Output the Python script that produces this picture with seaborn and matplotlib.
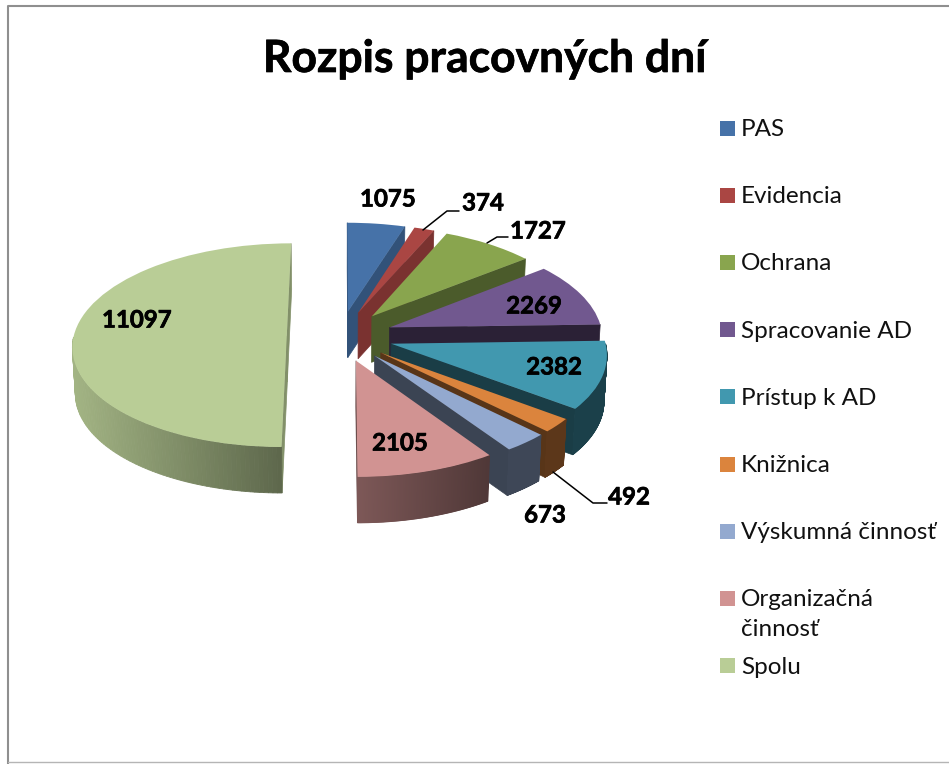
import numpy as np
import seaborn as sns
import matplotlib.pyplot as plt
import matplotlib.patheffects as pe
from matplotlib.patches import Rectangle
from matplotlib.transforms import Transform

categories = ['PAS', 'Evidencia', 'Ochrana', 'Spracovanie AD', 'Prístup k AD',
              'Knižnica', 'Výskumná činnosť', 'Organizačná\nčinnosť', 'Spolu']
values = [1075, 374, 1727, 2269, 2382, 492, 673, 2105, 11097]
colors = ['#4672a8', '#aa4643', '#89a54e', '#71588f', '#4198af',
          '#db843d', '#93a9cf', '#d19392', '#b9cd96']
# label centres on the picture, same order as values
label_pos = [(388, 199), (483, 203), (538, 231), (534, 306), (554, 367),
             (629, 497), (545, 515), (400, 443), (137, 320)]
# darkening of the outer wall, left end to right end
rim_shade = [(.5, .5), (.5, .5), (.5, .5), (.4, .4), (.42, .42),
             (.42, .42), (.42, .42), (.6, .38), (.88, .5)]
side_shade = [.72, .72, .55, .38, .4, .4, .4, .5, .7]
leaders = [[(423, 230), (447, 211), (459, 211)],
           [(487, 243), (497, 237), (508, 237)],
           [(553, 472), (593, 503), (607, 503)]]

# fake 3d view
XV, YV = 340, 336
A, B, P = 213, 101, .09
H = 46


def project(x, y, z=0.0):
    s = 1 / (1 + P * np.asarray(y))
    px = XV + A * np.asarray(x) * s * (1 - .011 * z / H)
    py = YV - B * np.asarray(y) * s + z
    return px, py


class Tilted(Transform):
    input_dims = 2
    output_dims = 2
    has_inverse = False

    def transform_non_affine(self, values):
        values = np.asarray(values)
        return np.column_stack(project(values[:, 0], values[:, 1]))


def shade(hex_color, f):
    return tuple(c * f for c in sns.color_palette([hex_color])[0])


def draw_walls(ax, wedge, rim, side):
    cx, cy = wedge.center
    zo = wedge.get_zorder() - .5
    # flat cut faces
    for t, f in ((wedge.theta1, 1), (wedge.theta2, -1)):
        rad = np.radians(t)
        if f * np.cos(rad) < -1e-6:
            continue
        xs = np.array([cx, cx + np.cos(rad)])
        ys = np.array([cy, cy + np.sin(rad)])
        x0, y0 = project(xs, ys)
        x1, y1 = project(xs, ys, H)
        ax.fill(np.r_[x0, x1[::-1]], np.r_[y0, y1[::-1]],
                color=side, lw=.5, zorder=zo)
    # outer wall, only the part that faces the viewer
    t = np.radians(np.linspace(wedge.theta1, wedge.theta2, 160))
    t = t[np.sin(t) < 0]
    if len(t) < 2:
        return
    xs, ys = cx + np.cos(t), cy + np.sin(t)
    x0, y0 = project(xs, ys)
    x1, y1 = project(xs, ys, H)
    left, right = x0.min(), x0.max()
    for i in range(len(t) - 1):
        k = (x0[i] - left) / max(right - left, 1)
        f = rim[0] + (rim[1] - rim[0]) * k
        ax.fill([x0[i], x0[i + 1], x1[i + 1], x1[i]],
                [y0[i], y0[i + 1], y1[i + 1], y1[i]],
                color=shade(wedge.get_facecolor()[:3], f), lw=.6, zorder=zo)


sns.set_theme(style='white')
plt.rcParams['font.family'] = ['Lato', 'DejaVu Sans']

fig, ax = plt.subplots(figsize=(9.49, 7.64), dpi=100)
fig.subplots_adjust(0, 0, 1, 1)

wedges, _ = ax.pie(values, colors=colors, startangle=90, counterclock=False,
                   explode=[.25] * len(values), radius=1)
ax.set_aspect('auto')
ax.set_xlim(0, 949)
ax.set_ylim(764, 0)
ax.axis('off')

tilted = Tilted() + ax.transData
order = [8, 0, 1, 2, 3, 4, 5, 6, 7]
for z, i in enumerate(order):
    w = wedges[i]
    w.set_zorder(2 + z)
    w.set_transform(tilted)
    w.set_linewidth(0)
    w.set_clip_on(False)
    draw_walls(ax, w, rim_shade[i], shade(colors[i], side_shade[i]))

heavy = [pe.withStroke(linewidth=.5, foreground='black')]
for (x, y), val in zip(label_pos, values):
    ax.text(x, y, str(val), ha='center', va='center', fontsize=17.3,
            fontweight='bold', color='black', zorder=20, path_effects=heavy)
for pts in leaders:
    ax.plot(*zip(*pts), color='black', lw=1.1, zorder=20)

ax.text(485, 59, 'Rozpis pracovných dní', ha='center', va='center',
        fontsize=32, fontweight='bold', color='black', path_effects=heavy)

# legend, the two line entry does not push the next one down
for i, cat in enumerate(categories):
    y = 128 + i * 67.2
    ax.add_patch(Rectangle((720, y - 7.5), 15, 15, color=colors[i], lw=0))
    for j, line in enumerate(cat.split('\n')):
        ax.text(741, y + 1.5 + j * 30, line, ha='left', va='center',
                fontsize=17.5, color='#111111')

# chart frame
ax.plot([8, 8, 949], [764, 5.5, 5.5], color='#8f8f8f', lw=1.5, zorder=1)
ax.plot([8, 949], [762, 762], color='#b5b5b5', lw=1, zorder=1)

fig.savefig('out.png', dpi=100)
